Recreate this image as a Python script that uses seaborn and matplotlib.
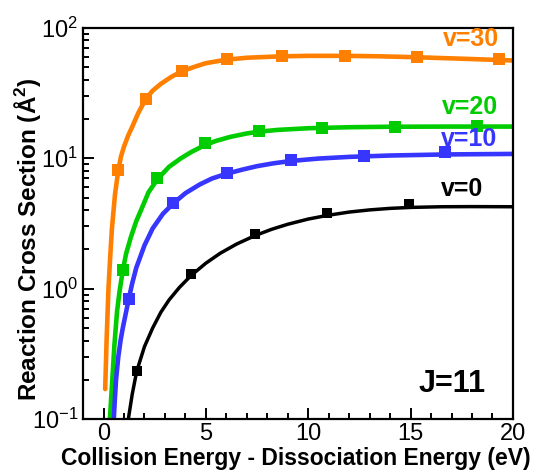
import numpy as np
import pandas as pd
import matplotlib
matplotlib.use("Agg")
import matplotlib.pyplot as plt
import matplotlib.ticker as mticker
import seaborn as sns

# Vibrational levels shown (rotational level J=11)
levels = ["v=30", "v=20", "v=10", "v=0"]
colors = {"v=30": "#FF8000", "v=20": "#00CC00", "v=10": "#3636FF", "v=0": "#000000"}

# Fitted cross-section curves (eV, Å^2)
fit_x_v30 = [0.08, 0.15, 0.24, 0.32, 0.41, 0.56, 0.72, 0.85, 1.0, 1.2, 1.39, 1.7, 2.07, 2.4, 2.8,
             3.3, 3.81, 4.4, 5.0, 6.0, 7.0, 8.7, 10.0, 11.8, 13.5, 15.3, 17.5, 20.0]
fit_y_v30 = [0.17, 0.41, 1.0, 1.7, 2.9, 5.3, 8.07, 10.3, 12.3, 14.9, 17.3, 22.3, 28.6, 33.0, 37.2,
             42.0, 46.3, 50.0, 53.6, 57.0, 59.0, 60.5, 61.0, 61.0, 60.5, 59.5, 58.0, 56.2]
fit_x_v20 = [0.31, 0.4, 0.53, 0.66, 0.78, 0.94, 1.1, 1.34, 1.6, 1.83, 2.2, 2.63, 3.2, 3.78, 4.3,
             4.94, 5.5, 6.2, 7.0, 7.6, 8.5, 10.0, 12.0, 14.0, 17.0, 20.0]
fit_y_v20 = [0.1, 0.17, 0.37, 0.67, 0.95, 1.38, 1.85, 2.5, 3.3, 4.0, 5.5, 6.9, 8.6, 10.0, 11.2,
             12.6, 13.6, 14.6, 15.5, 16.0, 16.5, 17.0, 17.3, 17.45, 17.5, 17.5]
fit_x_v10 = [0.5, 0.55, 0.61, 0.72, 0.83, 0.94, 1.08, 1.23, 1.4, 1.6, 2.0, 2.4, 2.9, 3.4, 4.0,
             4.7, 5.3, 6.0, 6.8, 7.5, 8.3, 9.2, 10.5, 12.0, 14.0, 16.7, 20.0]
fit_y_v10 = [0.1, 0.14, 0.2, 0.3, 0.4, 0.5, 0.64, 0.83, 1.1, 1.45, 2.15, 2.9, 3.75, 4.5, 5.4,
             6.3, 7.0, 7.6, 8.2, 8.7, 9.15, 9.55, 9.95, 10.25, 10.5, 10.7, 10.8]
fit_x_v0 = [1.21, 1.4, 1.62, 2.0, 2.4, 2.8, 3.2, 3.7, 4.27, 5.0, 5.7, 6.5, 7.39, 8.2, 9.0, 10.0,
            10.94, 12.0, 13.0, 14.0, 15.0, 16.5, 18.0, 20.0]
fit_y_v0 = [0.1, 0.155, 0.233, 0.36, 0.5, 0.66, 0.82, 1.02, 1.26, 1.57, 1.87, 2.2, 2.55, 2.85, 3.12, 3.42,
            3.65, 3.87, 4.02, 4.13, 4.2, 4.25, 4.26, 4.25]

# Computed cross sections (markers)
pts_x_v30 = [0.72, 2.07, 3.81, 6.02, 8.71, 11.8, 15.33, 19.3]
pts_y_v30 = [8.07, 28.6, 46.3, 57.2, 60.7, 61.3, 59.6, 57.9]
pts_x_v20 = [0.94, 2.63, 4.94, 7.59, 10.69, 14.23, 18.22]
pts_y_v20 = [1.38, 7.09, 13.1, 16.3, 17.1, 17.3, 17.8]
pts_x_v10 = [1.23, 3.40, 6.03, 9.18, 12.72, 16.68]
pts_y_v10 = [0.828, 4.52, 7.65, 9.62, 10.5, 11.1]
pts_x_v0 = [1.62, 4.27, 7.39, 10.94, 14.94]
pts_y_v0 = [0.233, 1.30, 2.64, 3.82, 4.48]

fits = {"v=30": (fit_x_v30, fit_y_v30), "v=20": (fit_x_v20, fit_y_v20),
        "v=10": (fit_x_v10, fit_y_v10), "v=0": (fit_x_v0, fit_y_v0)}
pts = {"v=30": (pts_x_v30, pts_y_v30), "v=20": (pts_x_v20, pts_y_v20),
       "v=10": (pts_x_v10, pts_y_v10), "v=0": (pts_x_v0, pts_y_v0)}

fit_df = pd.concat([pd.DataFrame({"E": x, "sigma": y, "v": k}) for k, (x, y) in fits.items()])
pts_df = pd.concat([pd.DataFrame({"E": x, "sigma": y, "v": k}) for k, (x, y) in pts.items()])

sns.set_style("ticks")
plt.rcParams["font.family"] = ["Liberation Sans", "DejaVu Sans"]
plt.rcParams["mathtext.default"] = "regular"
plt.rcParams["text.color"] = "black"
plt.rcParams["axes.labelcolor"] = "black"
plt.rcParams["xtick.color"] = "black"
plt.rcParams["ytick.color"] = "black"
plt.rcParams["axes.edgecolor"] = "black"

fig = plt.figure(figsize=(5.36, 4.72), dpi=100)
ax = fig.add_axes([0.155, 0.112, 0.802, 0.829])

for k in levels:
    lw = 2.5 if k == "v=0" else 3.3
    sns.lineplot(data=fit_df[fit_df.v == k], x="E", y="sigma", color=colors[k],
                 linewidth=lw, sort=False, estimator=None, ax=ax, legend=False)
    sns.scatterplot(data=pts_df[pts_df.v == k], x="E", y="sigma", color=colors[k],
                    marker="s", s=70 if k != "v=0" else 55, linewidth=0, ax=ax,
                    legend=False, zorder=3)

ax.set_yscale("log")
ax.set_xlim(-1, 20)
ax.set_ylim(0.1, 100)
ax.xaxis.set_major_locator(mticker.MultipleLocator(5))
ax.xaxis.set_minor_locator(mticker.MultipleLocator(1))
ax.yaxis.set_major_locator(mticker.LogLocator(base=10))
ax.yaxis.set_minor_locator(mticker.LogLocator(base=10, subs=np.arange(2, 10)))
ax.yaxis.set_major_formatter(mticker.LogFormatterMathtext())
ax.yaxis.set_minor_formatter(mticker.NullFormatter())

ax.tick_params(which="both", direction="in", top=False, right=False, width=1.4)
ax.tick_params(which="major", length=8, labelsize=17)
ax.tick_params(which="minor", length=4.5)
ax.tick_params(axis="x", pad=3)
for s in ax.spines.values():
    s.set_linewidth(1.6)
    s.set_color("black")

ax.set_xlabel("Collision Energy - Dissociation Energy (eV)", fontsize=16.5, fontweight="bold")
ax.set_ylabel("Reaction Cross Section (Å$^2$)", fontsize=17.5, fontweight="bold")
ax.xaxis.set_label_coords(0.495, -0.072)
ax.yaxis.set_label_coords(-0.093, 0.46)

label_pos = {"v=30": (19.3, 82.4), "v=20": (19.25, 24.8), "v=10": (19.25, 14.1), "v=0": (18.56, 5.84)}
for k, (x, y) in label_pos.items():
    ax.text(x, y, k, color=colors[k], fontsize=18, fontweight="bold", ha="right", va="center")
ax.text(18.66, 0.187, "J=11", color="black", fontsize=22, fontweight="bold", ha="right", va="center")

fig.savefig("out.png", dpi=100)
